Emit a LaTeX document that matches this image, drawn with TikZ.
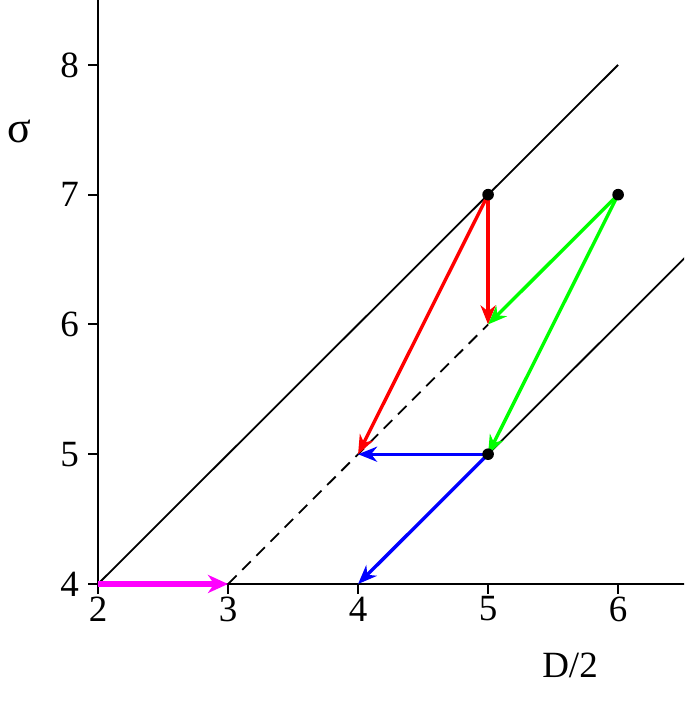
\documentclass[tikz,border=0pt]{standalone}
\usepackage{fontspec}
\setmainfont{Liberation Serif}
\usetikzlibrary{arrows.meta}
\definecolor{mred}{RGB}{255,0,0}
\definecolor{mgreen}{RGB}{0,255,0}
\definecolor{mblue}{RGB}{0,0,255}
\definecolor{mmag}{RGB}{255,0,255}
\begin{document}
\begin{tikzpicture}[x=65pt,y=64.875pt,
  axis/.style={line width=1pt,black},
  ref/.style={line width=0.9pt,black},
  arr/.style={line width=1.7pt,-{Stealth[length=9.5pt,width=7.5pt,inset=3pt]}},
  dot/.style={circle,fill=black,inner sep=0pt,minimum size=5.8pt},
  lab/.style={font=\fontsize{18.5}{21}\selectfont}]
\useasboundingbox (1.2462,3.083) rectangle (6.5077,8.5);
\clip (1.2462,3.083) rectangle (6.5077,8.5);
% coordinates
\coordinate (o) at (2,4);
\coordinate (t3) at (3,4);
\coordinate (b44) at (4,4);
\coordinate (p45) at (4,5);
\coordinate (p55) at (5,5);
\coordinate (p56) at (5,6);
\coordinate (p57) at (5,7);
\coordinate (p67) at (6,7);
\coordinate (d68) at (6,8);
\coordinate (e66) at (6.7,6.7);
\coordinate (xend) at (6.6,4);
\coordinate (ytop) at (2,8.6);
% axes
\draw[axis] (o) -- (ytop);
\draw[axis] (o) -- (xend);
\foreach \y in {4,5,6,7,8} {
  \draw[axis] (1.923,\y) -- (2,\y);
  \node[lab,anchor=east,inner sep=0pt] (yl\y) at (1.855,\y) {\y};
}
\foreach \x in {2,3,4,5,6} {
  \draw[axis] (\x,4) -- (\x,3.923);
  \node[lab,anchor=north,inner sep=0pt] (xl\x) at (\x,3.905) {\x};
}
\node[lab,font=\fontsize{22}{24}\selectfont] (sig) at (1.395,7.49) {σ};
\node[lab] (dlab) at (5.63,3.37) {D/2};
% reference lines
\draw[ref] (o) -- (d68);
\draw[ref] (p55) -- (e66);
\draw[ref,dashed,dash pattern=on 6pt off 4pt] (t3) -- (p56);
% arrows
\draw[arr,mred] (p57) -- (p56);
\draw[arr,mred] (p57) -- (p45);
\draw[arr,mgreen] (p67) -- (p56);
\draw[arr,mgreen] (p67) -- (p55);
\draw[arr,mblue] (p55) -- (p45);
\draw[arr,mblue] (p55) -- (b44);
\draw[line width=2.7pt,mmag,-{Stealth[length=10pt,width=9pt,inset=3pt]}] (o) -- (t3);
% dots
\node[dot] (n57) at (p57) {};
\node[dot] (n67) at (p67) {};
\node[dot] (n55) at (p55) {};
\end{tikzpicture}
\end{document}
